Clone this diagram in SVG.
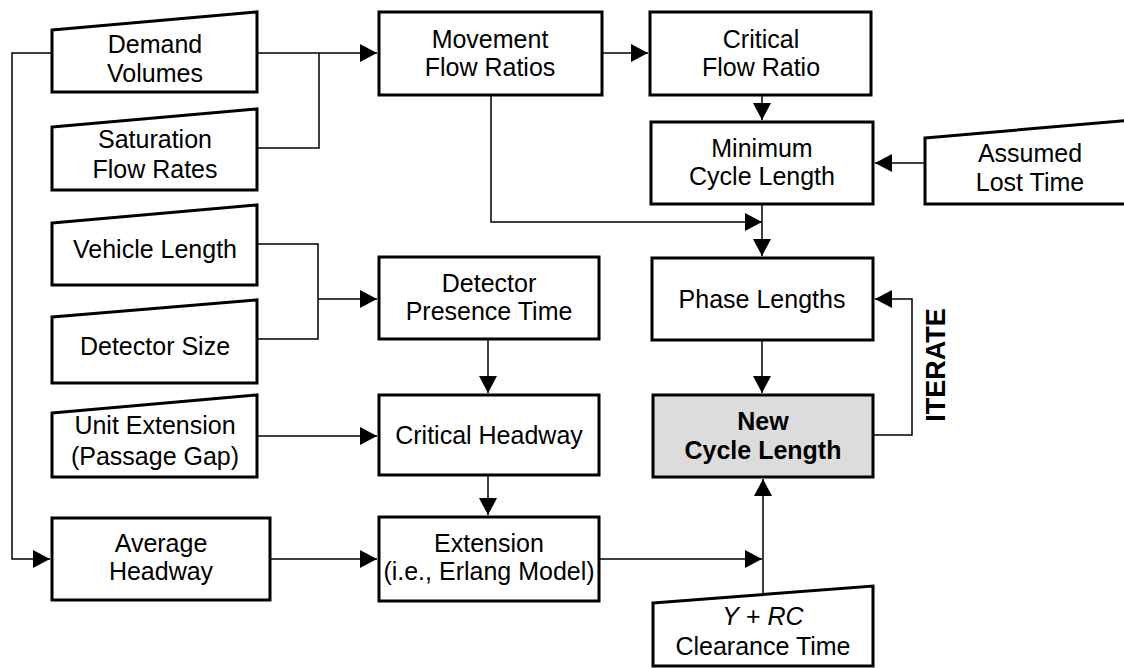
<svg xmlns="http://www.w3.org/2000/svg" width="1124" height="668" viewBox="0 0 1124 668">
<style>
.box{fill:#fff;stroke:#000;stroke-width:3}
.hl{fill:#dcdcdc;stroke:#000;stroke-width:3}
.t{font-family:"Liberation Sans",Arial,sans-serif;font-size:25px;fill:#000;text-anchor:middle}
.b{font-weight:bold}
.c{fill:none;stroke:#000;stroke-width:1.5}
</style>
<defs>
<marker id="ah" viewBox="0 0 17 18" refX="17" refY="9" markerWidth="17" markerHeight="18" markerUnits="userSpaceOnUse" orient="auto">
<path d="M0,0 L17,9 L0,18 Z" fill="#000"/>
</marker>
</defs>
<rect width="1124" height="668" fill="#fff"/>
<g id="connectors">
<path class="c" d="M257,53 H377" marker-end="url(#ah)"/>
<path class="c" d="M257,148 H319 V53"/>
<path class="c" d="M52,53 H12 V559 H50" marker-end="url(#ah)"/>
<path class="c" d="M602,53 H648" marker-end="url(#ah)"/>
<path class="c" d="M762,95 V120" marker-end="url(#ah)"/>
<path class="c" d="M925,163 H875" marker-end="url(#ah)"/>
<path class="c" d="M491,95 V222 H762" marker-end="url(#ah)"/>
<path class="c" d="M762,204 V256" marker-end="url(#ah)"/>
<path class="c" d="M257,244 H318 V339 H257"/>
<path class="c" d="M318,299 H377" marker-end="url(#ah)"/>
<path class="c" d="M488,339 V393" marker-end="url(#ah)"/>
<path class="c" d="M257,436 H377" marker-end="url(#ah)"/>
<path class="c" d="M488,475 V515" marker-end="url(#ah)"/>
<path class="c" d="M270,559 H377" marker-end="url(#ah)"/>
<path class="c" d="M599,559 H762" marker-end="url(#ah)"/>
<path class="c" d="M763,594 V479" marker-end="url(#ah)"/>
<path class="c" d="M762,340 V393" marker-end="url(#ah)"/>
<path class="c" d="M873,435 H912 V299 H875" marker-end="url(#ah)"/>
</g>
<g id="demand-volumes">
<polygon class="box" points="52,30 257,12 257,92 52,92"/>
<text class="t" x="155" y="53">Demand</text>
<text class="t" x="155" y="82">Volumes</text>
</g>
<g id="saturation-flow-rates">
<polygon class="box" points="52,127 257,109 257,190 52,190"/>
<text class="t" x="155" y="148">Saturation</text>
<text class="t" x="155" y="178">Flow Rates</text>
</g>
<g id="vehicle-length">
<polygon class="box" points="52,223 257,205 257,285 52,285"/>
<text class="t" x="155" y="258">Vehicle Length</text>
</g>
<g id="detector-size">
<polygon class="box" points="52,317 257,300 257,383 52,383"/>
<text class="t" x="155" y="355">Detector Size</text>
</g>
<g id="unit-extension">
<polygon class="box" points="52,413 257,395 257,477 52,477"/>
<text class="t" x="155" y="434">Unit Extension</text>
<text class="t" x="155" y="465">(Passage Gap)</text>
</g>
<g id="average-headway">
<rect class="box" x="52" y="518" width="218" height="82"/>
<text class="t" x="161" y="552">Average</text>
<text class="t" x="161" y="580">Headway</text>
</g>
<g id="movement-flow-ratios">
<rect class="box" x="379" y="12" width="223" height="83"/>
<text class="t" x="490" y="48">Movement</text>
<text class="t" x="490" y="76">Flow Ratios</text>
</g>
<g id="critical-flow-ratio">
<rect class="box" x="650" y="12" width="221" height="83"/>
<text class="t" x="761" y="48">Critical</text>
<text class="t" x="761" y="76">Flow Ratio</text>
</g>
<g id="minimum-cycle-length">
<rect class="box" x="651" y="122" width="222" height="82"/>
<text class="t" x="762" y="157">Minimum</text>
<text class="t" x="762" y="185">Cycle Length</text>
</g>
<g id="assumed-lost-time">
<polygon class="box" points="925,138 1132,120 1132,204 925,204"/>
<text class="t" x="1030" y="162">Assumed</text>
<text class="t" x="1030" y="191">Lost Time</text>
</g>
<g id="detector-presence-time">
<rect class="box" x="379" y="257" width="220" height="82"/>
<text class="t" x="489" y="292">Detector</text>
<text class="t" x="489" y="320">Presence Time</text>
</g>
<g id="phase-lengths">
<rect class="box" x="652" y="258" width="221" height="82"/>
<text class="t" x="762" y="308">Phase Lengths</text>
</g>
<g id="critical-headway">
<rect class="box" x="379" y="395" width="220" height="80"/>
<text class="t" x="489" y="444">Critical Headway</text>
</g>
<g id="extension">
<rect class="box" x="379" y="517" width="220" height="84"/>
<text class="t" x="489" y="552">Extension</text>
<text class="t" x="489" y="580">(i.e., Erlang Model)</text>
</g>
<g id="new-cycle-length">
<rect class="hl" x="653" y="395" width="220" height="82"/>
<text class="t b" x="763" y="430">New</text>
<text class="t b" x="763" y="459">Cycle Length</text>
</g>
<g id="clearance-time">
<polygon class="box" points="653,603 873,586 873,666 653,666"/>
<text class="t" x="763" y="625"><tspan font-style="italic">Y</tspan> + <tspan font-style="italic">RC</tspan></text>
<text class="t" x="763" y="655">Clearance Time</text>
</g>
<g id="iterate-label">
<text class="t b" font-size="27" transform="translate(945,365) rotate(-90)" style="font-size:27px">ITERATE</text>
</g>
</svg>
